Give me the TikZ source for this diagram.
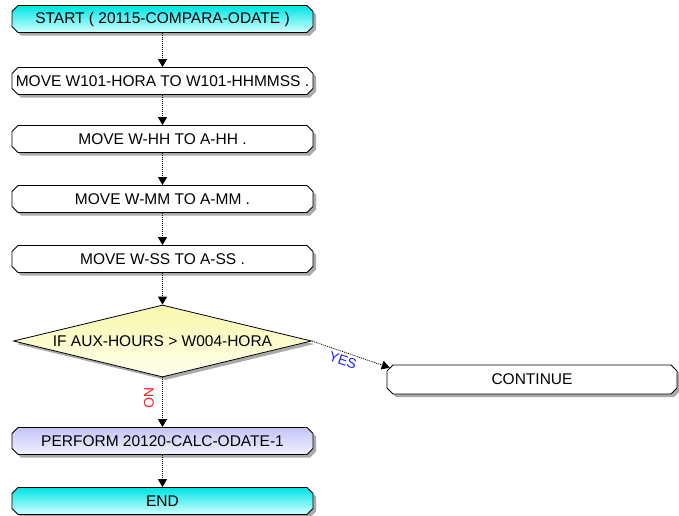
\documentclass[tikz,border=0pt]{standalone}
\usepackage{fontspec}
\setmainfont{Liberation Sans}
\usetikzlibrary{shapes.misc,shapes.geometric,shadows,arrows.meta}

\definecolor{cyantop}{RGB}{0,228,228}
\definecolor{cyanbot}{RGB}{215,255,255}
\definecolor{lavtop}{RGB}{196,196,246}
\definecolor{lavbot}{RGB}{242,242,255}
\definecolor{yeltop}{RGB}{248,248,170}
\definecolor{yelbot}{RGB}{255,255,240}
\definecolor{shadowgray}{RGB}{170,170,170}
\definecolor{yesblue}{RGB}{30,30,255}
\definecolor{nored}{RGB}{255,30,30}

\tikzset{
  txt/.style={font=\fontsize{15.5}{18}\selectfont},
  stepbox/.style={txt, chamfered rectangle, chamfered rectangle xsep=3pt,
    chamfered rectangle ysep=3pt, draw=black, line width=0.8pt,
    minimum width=301pt, minimum height=27pt, inner sep=0pt, fill=white,
    drop shadow={shadow xshift=3pt, shadow yshift=-3pt, fill=shadowgray, opacity=1}},
  termbox/.style={stepbox, top color=cyantop, bottom color=cyanbot},
  callbox/.style={stepbox, top color=lavtop, bottom color=lavbot},
  decbox/.style={txt, diamond, shape aspect=4.14, draw=black, line width=0.8pt,
    inner sep=0pt, minimum width=298pt, minimum height=72pt,
    top color=yeltop, bottom color=yelbot,
    drop shadow={shadow xshift=3pt, shadow yshift=-3pt, fill=shadowgray, opacity=1}},
  flow/.style={line width=0.8pt, dash pattern=on 1pt off 1pt,
    -{Triangle[length=8pt,width=9pt,sep=0pt]}},
  yeslbl/.style={font=\fontsize{14}{16}\selectfont, text=yesblue, inner sep=0pt},
  nolbl/.style={font=\fontsize{14}{16}\selectfont, text=nored, inner sep=0pt}
}

\begin{document}
\begin{tikzpicture}[x=1pt,y=-1pt]
  \useasboundingbox (0,0) rectangle (679,515);
  \clip (0,0) rectangle (679,515);

  % main column
  \node[termbox] (start) at (162.5,19)  {START ( 20115-COMPARA-ODATE )};
  \node[stepbox] (m1)    at (162.5,81)  {MOVE W101-HORA TO W101-HHMMSS .};
  \node[stepbox] (m2)    at (162.5,139) {MOVE W-HH TO A-HH .};
  \node[stepbox] (m3)    at (162.5,199) {MOVE W-MM TO A-MM .};
  \node[stepbox] (m4)    at (162.5,259) {MOVE W-SS TO A-SS .};
  \node[decbox]  (dec)   at (162.5,341) {IF AUX-HOURS > W004-HORA};
  \node[callbox] (perf)  at (162.5,441) {PERFORM 20120-CALC-ODATE-1};
  \node[termbox] (fin)   at (162.5,501) {END};

  % branch taken when the condition holds
  \node[stepbox, minimum width=290pt, minimum height=29pt] (cont) at (532,379.5) {CONTINUE};

  % connectors
  \draw[flow] (start.south) -- (m1.north);
  \draw[flow] (m1.south) -- (m2.north);
  \draw[flow] (m2.south) -- (m3.north);
  \draw[flow] (m3.south) -- (m4.north);
  \draw[flow] (m4.south) -- (dec.north);
  \draw[flow] (dec.south) -- (perf.north);
  \draw[flow] (perf.south) -- (fin.north);
  \draw[flow] (dec.east) -- (cont.north west);

  % branch labels
  \node[yeslbl, rotate=-18] (yes) at (343,360) {YES};
  \node[nolbl, rotate=-90] (no) at (149,398) {NO};
\end{tikzpicture}
\end{document}
